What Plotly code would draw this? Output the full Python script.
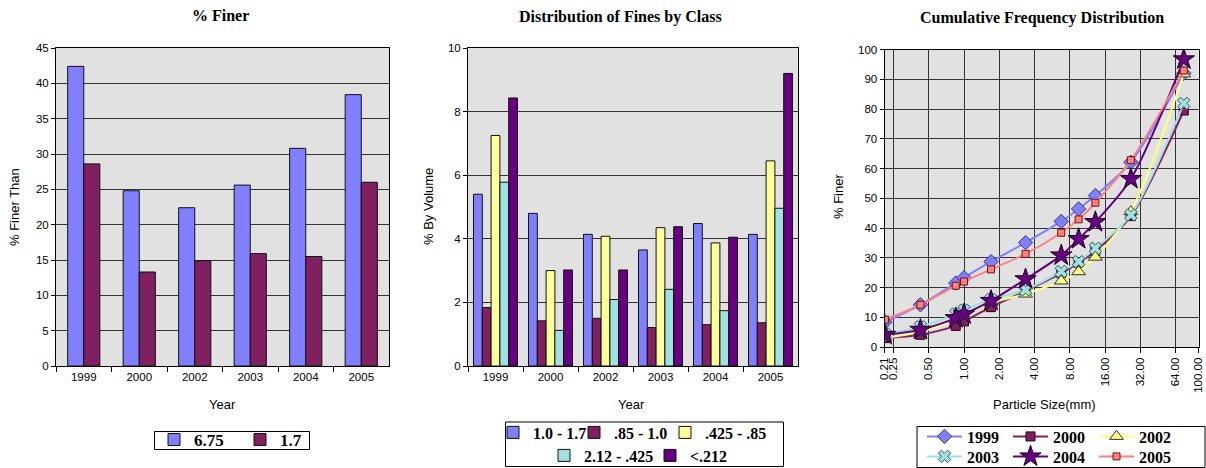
import math
import plotly.graph_objects as go

# ---------------- data ----------------
years = ["1999", "2000", "2002", "2003", "2004", "2005"]

# Chart 1: % finer than 6.75 mm and 1.7 mm
finer_675 = [42.4, 24.8, 22.4, 25.6, 30.8, 38.4]
finer_17 = [28.6, 13.3, 14.9, 15.9, 15.5, 26.0]

# Chart 2: distribution of fines by class (% by volume)
class_names = ["1.0 - 1.7", ".85 - 1.0", ".425 - .85", "2.12 - .425", "<.212"]
cls_10_17 = [5.40, 4.80, 4.14, 3.65, 4.48, 4.14]
cls_085_10 = [1.84, 1.42, 1.50, 1.21, 1.30, 1.36]
cls_0425_085 = [7.25, 3.00, 4.08, 4.35, 3.87, 6.45]
cls_0212_0425 = [5.78, 1.12, 2.09, 2.41, 1.74, 4.96]
cls_lt_0212 = [8.43, 3.02, 3.02, 4.38, 4.05, 9.20]

# Chart 3: cumulative frequency distribution (% finer vs particle size, mm)
sizes = [0.212, 0.425, 0.85, 1.0, 1.7, 3.35, 6.75, 9.5, 13.2, 26.5, 75.0]
cum_1999 = [8.4, 14.2, 21.5, 23.3, 28.7, 35.1, 42.2, 46.4, 50.9, 62.1, 92.0]
cum_2000 = [3.0, 4.1, 7.1, 8.6, 13.4, 18.8, 24.8, 28.3, 32.3, 44.0, 79.5]
cum_2002 = [3.0, 5.1, 9.2, 10.7, 14.8, 17.8, 22.2, 25.3, 30.2, 45.5, 91.8]
cum_2003 = [4.4, 6.8, 11.1, 12.4, 16.0, 19.2, 25.4, 28.7, 33.2, 44.4, 81.9]
cum_2004 = [4.1, 5.8, 9.7, 11.0, 15.5, 22.8, 30.8, 36.3, 42.0, 56.5, 96.7]
cum_2005 = [9.2, 14.2, 20.6, 22.0, 26.1, 31.3, 38.4, 42.9, 48.5, 62.8, 92.9]

size_ticks = [0.21, 0.25, 0.5, 1, 2, 4, 8, 16, 32, 64, 100]
size_tick_labels = ["0.21", "0.25", "0.50", "1.00", "2.00", "4.00", "8.00",
                    "16.00", "32.00", "64.00", "100.00"]

# ---------------- helpers / styles ----------------
W, H = 1206, 468


def px(x):
    return x / W


def py(y):
    return 1 - y / H


SANS = "Liberation Sans, Arial, sans-serif"
SERIF = "Liberation Serif, Times New Roman, serif"
GRID = "#333333"
BAR_LINE = dict(color="#111111", width=1)

fig = go.Figure()

# ---------------- chart 1 ----------------
fig.add_trace(go.Bar(x=years, y=finer_675, name="6.75", xaxis="x", yaxis="y",
                     width=0.29, offset=-0.29, legend="legend", legendwidth=41,
                     marker=dict(color="#8080FF", line=BAR_LINE)))
fig.add_trace(go.Bar(x=years, y=finer_17, name="1.7", xaxis="x", yaxis="y",
                     width=0.29, offset=0.0, legend="legend", legendwidth=41,
                     marker=dict(color="#802060", line=BAR_LINE)))

# ---------------- chart 2 ----------------
cls_series = [cls_10_17, cls_085_10, cls_0425_085, cls_0212_0425, cls_lt_0212]
cls_colors = ["#8080FF", "#802060", "#FFFF99", "#A0E0E0", "#660080"]
cls_legend = ["legend2", "legend2", "legend2", "legend3", "legend3"]
cls_lw = [36, 46, 62, 61, 40]
bw2 = 0.16
for i, (nm, vals, col, lg) in enumerate(zip(class_names, cls_series, cls_colors, cls_legend)):
    fig.add_trace(go.Bar(x=years, y=vals, name=nm, xaxis="x2", yaxis="y2",
                         width=bw2, offset=-0.4 + i * bw2, legend=lg,
                         legendwidth=cls_lw[i],
                         marker=dict(color=col, line=BAR_LINE)))

# ---------------- chart 3 ----------------
cum_series = [
    ("1999", cum_1999, "#8080FF", "diamond", 11, "#33338A", "legend4"),
    ("2000", cum_2000, "#802060", "square", 9, "#2A0018", "legend4"),
    ("2002", cum_2002, "#FFFF80", "triangle-up", 12, "#333333", "legend4"),
    ("2003", cum_2003, "#A0E0E0", "x", 11, "#3A5A5A", "legend5"),
    ("2004", cum_2004, "#660080", "star", 16, "#1A0020", "legend5"),
    ("2005", cum_2005, "#FF8080", "square", 7, "#7A1010", "legend5"),
]
for nm, vals, col, sym, sz, lc, lg in cum_series:
    fig.add_trace(go.Scatter(x=sizes, y=vals, name=nm, xaxis="x3", yaxis="y3",
                             mode="lines+markers", legend=lg, legendwidth=36,
                             line=dict(color=col, width=2, shape="spline", smoothing=0.8),
                             marker=dict(symbol=sym, size=sz, color=col,
                                         line=dict(color=lc, width=1))))

# ---------------- axes ----------------
tickfont = dict(family=SANS, size=11.5, color="black")
cat_axis = dict(type="category", range=[-0.5, 5.5], tickson="boundaries",
                ticks="outside", ticklen=5, tickcolor="black", showline=True,
                linecolor="black", linewidth=1, mirror=True, showgrid=False,
                tickfont=tickfont, fixedrange=True)
val_axis = dict(showgrid=True, gridcolor=GRID, gridwidth=1, zeroline=False,
                ticks="outside", ticklen=4, tickcolor="black", showline=True,
                linecolor="black", linewidth=1, mirror=True, tickfont=tickfont,
                fixedrange=True)

plot_top = 48
plot_bot = 366

fig.update_layout(
    xaxis=dict(domain=[px(56), px(389)], anchor="y", **cat_axis),
    yaxis=dict(domain=[py(plot_bot), py(plot_top)], anchor="x", range=[0, 45],
               dtick=5, **val_axis),
    xaxis2=dict(domain=[px(468), px(798)], anchor="y2", **cat_axis),
    yaxis2=dict(domain=[py(plot_bot), py(plot_top)], anchor="x2", range=[0, 10],
                dtick=2, **val_axis),
    xaxis3=dict(domain=[px(884.5), px(1198.5)], anchor="y3", type="log",
                range=[math.log10(0.21) - 0.0005, 2.0005], tickmode="array",
                tickvals=size_ticks, ticktext=size_tick_labels, tickangle=-90,
                ticklabeloverflow="allow",
                showgrid=True, gridcolor=GRID, gridwidth=1, zeroline=False,
                ticks="outside", ticklen=5, tickcolor="black", showline=True,
                linecolor="black", linewidth=1, mirror=True, tickfont=tickfont,
                fixedrange=True),
    yaxis3=dict(domain=[py(347), py(49.5)], anchor="x3", range=[0, 100],
                dtick=10, **val_axis),
)

# ---------------- legends ----------------
leg_font1 = dict(family=SERIF, size=17, color="black", weight="bold")
leg_font2 = dict(family=SERIF, size=16, color="black", weight="bold")
leg_font3 = dict(family=SERIF, size=16, color="black", weight="bold")
common_leg = dict(orientation="h", xanchor="left", yanchor="top",
                  bgcolor="rgba(0,0,0,0)", borderwidth=0, traceorder="normal")
fig.update_layout(
    legend=dict(x=px(154), y=py(422), font=leg_font1, **common_leg),
    legend2=dict(x=px(493), y=py(415.5), font=leg_font2, **common_leg),
    legend3=dict(x=px(544), y=py(438.5), font=leg_font2, **common_leg),
    legend4=dict(x=px(922), y=py(419.5), font=leg_font3, itemwidth=35, **common_leg),
    legend5=dict(x=px(922), y=py(439.5), font=leg_font3, itemwidth=35, **common_leg),
)

box_line = dict(color="black", width=1)
shapes = [
    dict(type="rect", xref="paper", yref="paper", x0=px(154.5), x1=px(309.5),
         y0=py(449.5), y1=py(431.5), line=box_line, fillcolor="rgba(0,0,0,0)"),
    dict(type="rect", xref="paper", yref="paper", x0=px(505.5), x1=px(783.5),
         y0=py(466.5), y1=py(422), line=box_line, fillcolor="rgba(0,0,0,0)"),
    dict(type="rect", xref="paper", yref="paper", x0=px(917), x1=px(1205),
         y0=py(467.5), y1=py(426.5), line=box_line, fillcolor="rgba(0,0,0,0)"),
]

# ---------------- titles / labels ----------------
title_font = dict(family=SERIF, size=16, color="black", weight="bold")
label_font = dict(family=SANS, size=13, color="black")


def ann(text, x, y, font, angle=0):
    return dict(text=text, x=px(x), y=py(y), xref="paper", yref="paper",
                showarrow=False, xanchor="center", yanchor="middle",
                textangle=angle, font=font)


annotations = [
    ann("% Finer", 220, 16, title_font),
    ann("Distribution of Fines by Class", 620, 17, title_font),
    ann("Cumulative Frequency Distribution", 1042, 18, title_font),
    ann("Year", 222, 404, label_font),
    ann("Year", 632, 404, label_font),
    ann("Particle Size(mm)", 1044, 404, label_font),
    ann("% Finer Than", 14, 207, label_font, -90),
    ann("% By Volume", 428, 207, label_font, -90),
    ann("% Finer", 838, 196, label_font, -90),
]

fig.update_layout(
    width=W, height=H, margin=dict(l=0, r=0, t=0, b=0, autoexpand=False),
    paper_bgcolor="white", plot_bgcolor="#E1E1E1",
    barmode="overlay", showlegend=True,
    shapes=shapes, annotations=annotations,
    font=dict(family=SANS, color="black"),
)

# remove the browser's default 8px page margin so the figure sits at (0, 0)
fig.write_html("out.html",
               config={"displayModeBar": False},
               post_script="document.body.style.margin='0';document.body.style.overflow='hidden';")
